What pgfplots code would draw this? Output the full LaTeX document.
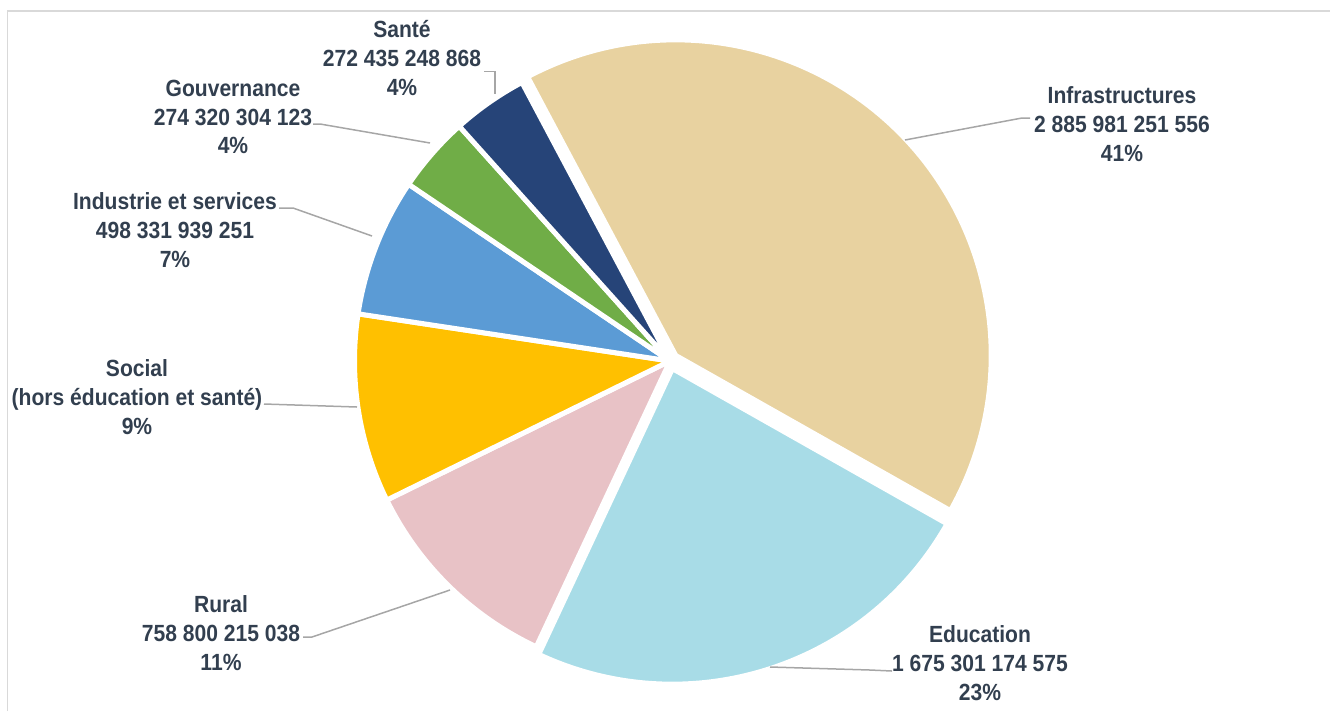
\documentclass[border=0pt]{standalone}
\usepackage{pgfplots}
\pgfplotsset{compat=1.18}
\usepackage{fontspec}
\setmainfont{Liberation Sans}[FakeStretch=0.9]

\definecolor{cInfra}{HTML}{E8D2A0}
\definecolor{cEdu}{HTML}{A8DCE7}
\definecolor{cRural}{HTML}{E8C2C6}
\definecolor{cSocial}{HTML}{FFC000}
\definecolor{cInd}{HTML}{5B9BD5}
\definecolor{cGouv}{HTML}{70AD47}
\definecolor{cSante}{HTML}{264478}
\definecolor{ctext}{HTML}{323F4F}
\definecolor{cline}{HTML}{A6A6A6}
\definecolor{cframe}{HTML}{D9D9D9}

% values in billions; Social is not printed on the chart, estimated from its angle
\pgfmathsetmacro\tot{2885.981+1675.301+758.800+680.0+498.332+274.320+272.435}
\pgfmathsetmacro\aA{-28}
\pgfmathsetmacro\aB{\aA+2885.981/\tot*360}
\pgfmathsetmacro\aC{\aB+1675.301/\tot*360}
\pgfmathsetmacro\aD{\aC+758.800/\tot*360}
\pgfmathsetmacro\aE{\aD+680.0/\tot*360}
\pgfmathsetmacro\aF{\aE+498.332/\tot*360}
\pgfmathsetmacro\aG{\aF+274.320/\tot*360}
\pgfmathsetmacro\aH{\aG+272.435/\tot*360}

% start, end (degrees clockwise from top), colour, explode
\newcommand\slice[4]{%
  \path (axis cs:670,361) ++({90-(#1+#2)/2}:#4) coordinate (V);
  \fill[#3, draw=white, line width=5bp, line join=round]
    (V) -- ++({90-#1}:315.5bp)
    arc[start angle={90-#1}, end angle={90-#2}, radius=315.5bp] -- cycle;}

\begin{document}
\begin{tikzpicture}[lbl/.style={font=\bfseries\fontsize{23.5}{29}\selectfont,
    text=ctext, align=center, inner sep=0pt},
  lead/.style={cline, line width=1.5bp}]
\begin{axis}[width=1330bp, height=711bp, scale only axis,
  xmin=0, xmax=1330, ymin=0, ymax=711, y dir=reverse,
  hide axis, clip=false]

\draw[cframe, line width=1.5bp] (axis cs:7.5,711) -- (axis cs:7.5,11) -- (axis cs:1330,11);

\slice{\aA}{\aB}{cInfra}{8bp}
\slice{\aB}{\aC}{cEdu}{8bp}
\slice{\aC}{\aD}{cRural}{0bp}
\slice{\aD}{\aE}{cSocial}{0bp}
\slice{\aE}{\aF}{cInd}{0bp}
\slice{\aF}{\aG}{cGouv}{0bp}
\slice{\aG}{\aH}{cSante}{0bp}

\draw[lead] (axis cs:1030,118) -- (axis cs:1022,118) -- (axis cs:905,140);
\draw[lead] (axis cs:892,671) -- (axis cs:870,670) -- (axis cs:770,667);
\draw[lead] (axis cs:303,637) -- (axis cs:312,637) -- (axis cs:450,590);
\draw[lead] (axis cs:264,404) -- (axis cs:357,407);
\draw[lead] (axis cs:279,208) -- (axis cs:293,208) -- (axis cs:372,236);
\draw[lead] (axis cs:313,124) -- (axis cs:320,124) -- (axis cs:430,143);
\draw[lead] (axis cs:484,71.5) -- (axis cs:495,71.5) -- (axis cs:495,94);

\node[lbl] at (axis cs:1122,124) {Infrastructures\\2 885 981 251 556\\41\%};
\node[lbl] at (axis cs:980,663) {Education\\1 675 301 174 575\\23\%};
\node[lbl] at (axis cs:221,633) {Rural\\758 800 215 038\\11\%};
\node[lbl] at (axis cs:137,397) {Social\\(hors éducation et santé)\\9\%};
\node[lbl] at (axis cs:175,230) {Industrie et services\\498 331 939 251\\7\%};
\node[lbl] at (axis cs:233,117) {Gouvernance\\274 320 304 123\\4\%};
\node[lbl] at (axis cs:402,58) {Santé\\272 435 248 868\\4\%};
\end{axis}
\pgfresetboundingbox
\path (current axis.south west) rectangle (current axis.north east);
\end{tikzpicture}
\end{document}
